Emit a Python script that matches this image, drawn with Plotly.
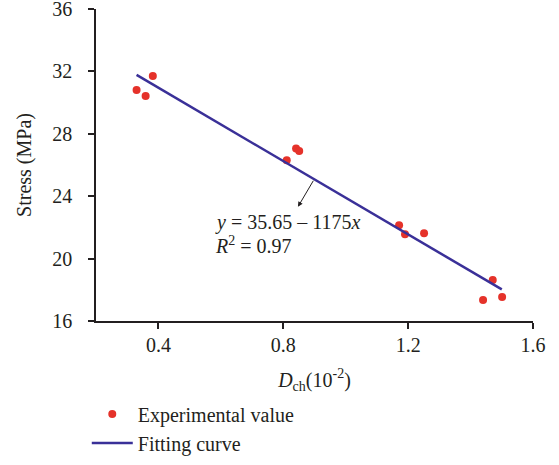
import plotly.graph_objects as go

# Experimental data: D_ch (10^-2) vs stress (MPa)
dch = [0.330, 0.359, 0.382, 0.811, 0.841, 0.851, 1.171, 1.190, 1.251, 1.440, 1.471, 1.501]
stress = [30.8, 30.42, 31.7, 26.3, 27.05, 26.9, 22.13, 21.56, 21.62, 17.35, 18.63, 17.54]

# Fitting curve y = 35.65 - 1175x  (x in units of 10^-2 on the axis)
fit_intercept = 35.65
fit_slope = -11.75
fit_x = [0.33, 1.50]
fit_y = [fit_intercept + fit_slope * v for v in fit_x]

x_ticks = [0.4, 0.8, 1.2, 1.6]
x_labels = ["0.4", "0.8", "1.2", "1.6"]
y_ticks = [16, 20, 24, 28, 32, 36]

FONT = "Liberation Serif"
FS = 20
RED = "#e5322a"
BLUE = "#3a3098"
AX = "#231f20"
TXT = "#231f20"

fig = go.Figure()
fig.add_trace(go.Scatter(x=dch, y=stress, mode="markers", name="Experimental value",
                         marker=dict(color=RED, size=8)))
fig.add_trace(go.Scatter(x=fit_x, y=fit_y, mode="lines", name="Fitting curve",
                         line=dict(color=BLUE, width=2.5)))

# arrow from the fitted line down to the equation
fig.add_annotation(x=0.847, y=23.32, ax=0.899, ay=fit_intercept + fit_slope * 0.899,
                   xref="x", yref="y", axref="x", ayref="y",
                   showarrow=True, arrowhead=2, arrowsize=1, arrowwidth=1, arrowcolor=TXT,
                   text="", standoff=0, startstandoff=0)
fig.add_annotation(x=0.575, y=22.34, xref="x", yref="y", xanchor="left", yanchor="middle",
                   showarrow=False, text="<i>y</i> = 35.65 – 1175<i>x</i>",
                   font=dict(family=FONT, size=FS, color=TXT))
fig.add_annotation(x=0.575, y=20.86, xref="x", yref="y", xanchor="left", yanchor="middle",
                   showarrow=False, text="<i>R</i><sup>2</sup> = 0.97",
                   font=dict(family=FONT, size=FS, color=TXT))

axis_common = dict(showline=True, linecolor=AX, linewidth=1.5, ticks="outside",
                   ticklen=6, tickwidth=1.5, tickcolor=AX, showgrid=False, zeroline=False,
                   ticklabeloverflow="allow", automargin=False,
                   tickfont=dict(family=FONT, size=FS, color=TXT),
                   title_font=dict(family=FONT, size=FS, color=TXT))

fig.update_xaxes(range=[0.2, 1.6], tickvals=x_ticks, ticktext=x_labels,
                 title_text="<i>D</i><sub>ch</sub>(10<sup>-2</sup>)", title_standoff=18,
                 ticklabelstandoff=-1, **axis_common)
fig.update_yaxes(range=[16, 36], tickvals=y_ticks, title_text="Stress (MPa)",
                 ticklabelstandoff=12, **axis_common)

fig.update_layout(
    width=559, height=465,
    margin=dict(l=96, r=26, t=9, b=144, autoexpand=False),
    plot_bgcolor="white", paper_bgcolor="white",
    font=dict(family=FONT, size=FS, color=TXT),
    showlegend=True,
    legend=dict(x=-0.0211, y=-0.2353, xanchor="left", yanchor="top", orientation="v",
                itemwidth=41, tracegroupgap=0, bgcolor="rgba(0,0,0,0)",
                font=dict(family=FONT, size=FS, color=TXT)),
)

fig.write_html("out.html", config={"displayModeBar": False},
               post_script="document.body.style.margin='0px';")
